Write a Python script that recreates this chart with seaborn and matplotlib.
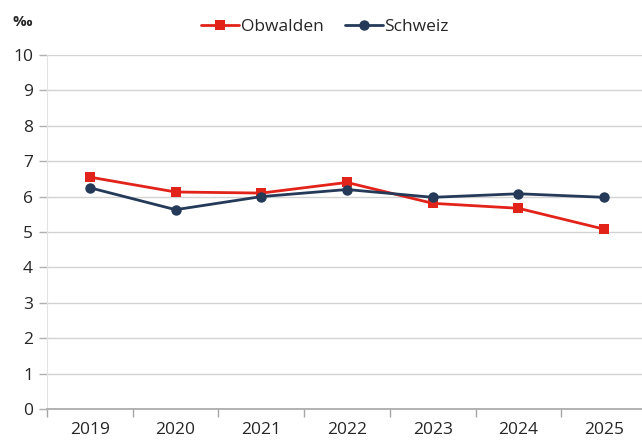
import pandas as pd
import matplotlib
matplotlib.use("Agg")
import matplotlib.pyplot as plt
import seaborn as sns

# Data (per mille)
years = ["2019", "2020", "2021", "2022", "2023", "2024", "2025"]
obwalden = [6.55, 6.13, 6.10, 6.40, 5.81, 5.67, 5.08]
schweiz = [6.25, 5.63, 6.00, 6.20, 5.98, 6.08, 5.98]
series_names = ["Obwalden", "Schweiz"]

colors = {"Obwalden": "#e2231a", "Schweiz": "#243a58"}
markers = {"Obwalden": "s", "Schweiz": "o"}

sns.set_style("white")
plt.rcParams["font.family"] = ["Open Sans", "DejaVu Sans"]
text_color = "#262626"

df = pd.DataFrame({
    "pos": list(range(len(years))) * 2,
    "value": obwalden + schweiz,
    "series": [series_names[0]] * len(years) + [series_names[1]] * len(years),
})

fig = plt.figure(figsize=(6.42, 4.41), dpi=100)
ax = fig.add_axes([47 / 642, 1 - 409 / 441, 600 / 642, 354 / 441])

sns.lineplot(data=df, x="pos", y="value", hue="series", style="series",
             palette=colors, markers=markers, dashes=False, markersize=7.5,
             linewidth=2, markeredgewidth=0, ax=ax, legend=False)

ax.set_xlim(-0.5, len(years) - 0.5)
ax.set_ylim(0, 10)
ax.set_yticks(range(0, 11))
ax.set_xticks(range(len(years)))
ax.set_xticklabels(years)
ax.set_xticks([i - 0.5 for i in range(len(years) + 1)], minor=True)
ax.tick_params(axis="x", which="major", bottom=True, length=0, pad=9,
               labelsize=12.5, labelcolor=text_color)
ax.tick_params(axis="x", which="minor", bottom=True, length=6, color="#a6a6a6", width=1)
ax.tick_params(axis="y", left=True, length=6, color="#b0b0b0", width=1, pad=4,
               labelsize=12.5, labelcolor=text_color)
ax.set_xlabel("")
ax.set_ylabel("")

ax.grid(axis="y", color="#d3d3d3", linewidth=1)
ax.set_axisbelow(True)
for side in ["top", "right"]:
    ax.spines[side].set_visible(False)
ax.spines["left"].set_color("#e3e3e3")
ax.spines["bottom"].set_color("#a6a6a6")
ax.spines["bottom"].set_linewidth(1.2)

# per mille unit label
fig.text(22 / 642, 1 - 22 / 441, "‰", ha="center", va="center", fontsize=11,
         color=text_color, fontweight="bold")

handles = [plt.Line2D([], [], color=colors[n], marker=markers[n], markersize=7.5,
                      markeredgewidth=0, linewidth=2) for n in series_names]
fig.legend(handles, series_names, loc="center", bbox_to_anchor=(325 / 642, 1 - 27 / 441),
           ncol=2, frameon=False, fontsize=12.5, handlelength=2.2, handletextpad=0.1,
           columnspacing=1.2, labelcolor=text_color)

fig.savefig("out.png", dpi=100)
